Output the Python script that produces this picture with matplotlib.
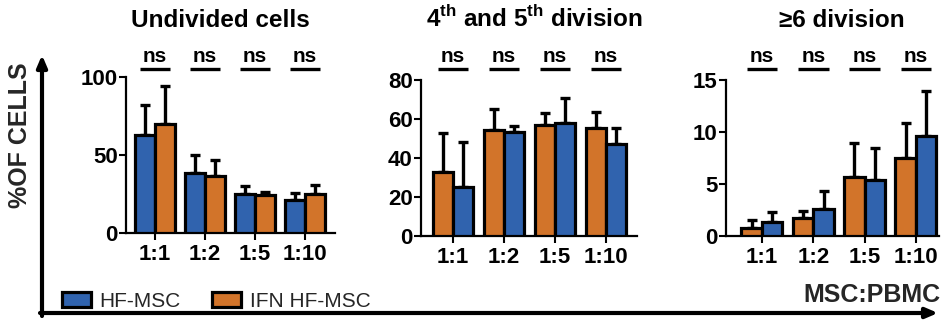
import numpy as np
import matplotlib
matplotlib.use("Agg")
import matplotlib.pyplot as plt
from matplotlib.patches import Patch
from matplotlib.transforms import blended_transform_factory

plt.rcParams['font.family'] = ['Liberation Sans', 'DejaVu Sans']
plt.rcParams['font.weight'] = 'bold'
plt.rcParams['mathtext.fontset'] = 'custom'
plt.rcParams['mathtext.rm'] = 'Liberation Sans:bold'
plt.rcParams['mathtext.bf'] = 'Liberation Sans:bold'

# -----------------------------
# Data
# -----------------------------
ratios = ["1:1", "1:2", "1:5", "1:10"]

# Undivided cells (HF-MSC first, IFN second)
undiv_hf = [63, 38.5, 25, 21]
undiv_hf_sd = [19, 11.5, 5, 4.5]
undiv_ifn = [70, 36.5, 24.5, 25]
undiv_ifn_sd = [24, 10.5, 2, 5.5]

# 4th and 5th division (IFN first, HF-MSC second)
div45_ifn = [33, 54.5, 57, 55.5]
div45_ifn_sd = [20, 10.5, 6, 8]
div45_hf = [25, 53.5, 58, 47]
div45_hf_sd = [23, 3, 13, 8.5]

# >=6 division (IFN first, HF-MSC second)
div6_ifn = [0.8, 1.7, 5.7, 7.5]
div6_ifn_sd = [0.7, 0.7, 3.2, 3.4]
div6_hf = [1.3, 2.6, 5.4, 9.6]
div6_hf_sd = [1.0, 1.7, 3.1, 4.3]

sig_labels = ["ns", "ns", "ns", "ns"]

blue = "#3063AE"
orange = "#D2742A"

# -----------------------------
# Figure
# -----------------------------
W, H = 947, 320
fig = plt.figure(figsize=(W / 100, H / 100), dpi=100)


def px_axes(x0, x1, ybot, ytop):
    return fig.add_axes([x0 / W, (H - ybot) / H, (x1 - x0) / W, (ybot - ytop) / H])


panels = [
    dict(box=(126, 335, 233, 77), xlim=(-0.58, 3.6), ylim=(0, 100), yticks=[0, 50, 100],
         first=(undiv_hf, undiv_hf_sd, blue), second=(undiv_ifn, undiv_ifn_sd, orange),
         title="Undivided cells", tx=220),
    dict(box=(421, 637, 236, 80), xlim=(-0.63, 3.61), ylim=(0, 80), yticks=[0, 20, 40, 60, 80],
         first=(div45_ifn, div45_ifn_sd, orange), second=(div45_hf, div45_hf_sd, blue),
         title=r"4$^{\mathbf{th}}$ and 5$^{\mathbf{th}}$ division", tx=534),
    dict(box=(726, 939, 236, 80), xlim=(-0.7, 3.45), ylim=(0, 15), yticks=[0, 5, 10, 15],
         first=(div6_ifn, div6_ifn_sd, orange), second=(div6_hf, div6_hf_sd, blue),
         title="\u22656 division", tx=842),
]

x = np.arange(len(ratios))
w = 0.4

for p in panels:
    ax = px_axes(*p["box"])
    for vals, sd, col, off in [(*p["first"], -w / 2), (*p["second"], w / 2)]:
        ax.errorbar(x + off, vals, yerr=[np.zeros(len(vals)), sd], fmt="none",
                    ecolor="black", elinewidth=2.4, capsize=3.6, capthick=2.4, zorder=2)
        ax.bar(x + off, vals, width=w, color=col, edgecolor="black", linewidth=2.3, zorder=3)
    ax.set_xlim(*p["xlim"])
    ax.set_ylim(*p["ylim"])
    ax.set_yticks(p["yticks"])
    ax.set_xticks(x)
    ax.set_xticklabels(ratios, fontsize=16, fontweight="bold")
    for lab in ax.get_yticklabels():
        lab.set_fontsize(16)
        lab.set_fontweight("bold")
    ax.tick_params(axis="both", width=1.5, length=5, pad=1, colors="black")
    ax.tick_params(axis="x", pad=3)
    for s in ["top", "right"]:
        ax.spines[s].set_visible(False)
    for s in ["left", "bottom"]:
        ax.spines[s].set_linewidth(1.6)

    # significance marks
    tr = blended_transform_factory(ax.transData, fig.transFigure)
    for xi, lab in zip(x, sig_labels):
        ax.plot([xi - 0.3, xi + 0.3], [(H - 69) / H] * 2, color="black", lw=2.4,
                transform=tr, clip_on=False, solid_capstyle="butt")
        ax.text(xi, (H - 62) / H, lab, transform=tr, ha="center", va="baseline",
                fontsize=15, fontweight="bold")

    fig.text(p["tx"] / W, (H - 27) / H, p["title"], ha="center", va="baseline",
             fontsize=17.5, fontweight="bold")

# big axis arrows
bg = fig.add_axes([0, 0, 1, 1], zorder=-1)
bg.set_xlim(0, W)
bg.set_ylim(H, 0)
bg.axis("off")
bg.annotate("", xy=(42, 55), xytext=(42, 316),
            arrowprops=dict(arrowstyle="-|>,head_length=0.7,head_width=0.3", lw=3, color="black",
                            shrinkA=0, shrinkB=0))
bg.annotate("", xy=(938, 313), xytext=(40, 313),
            arrowprops=dict(arrowstyle="-|>,head_length=0.7,head_width=0.3", lw=3, color="black",
                            shrinkA=0, shrinkB=0))

fig.text(20 / W, (H - 135) / H, "%OF CELLS", rotation=90, ha="center", va="center",
         fontsize=18, fontweight="bold", color="#262626")
fig.text(940 / W, (H - 302) / H, "MSC:PBMC", ha="right", va="baseline",
         fontsize=18, fontweight="bold", color="#262626")

handles = [Patch(facecolor=blue, edgecolor="black", linewidth=2.3, label="HF-MSC"),
           Patch(facecolor=orange, edgecolor="black", linewidth=2.3, label="IFN HF-MSC")]
leg = fig.legend(handles=handles, loc="lower left", bbox_to_anchor=(62 / W, (H - 311) / H),
                 ncol=2, frameon=False, borderpad=0, borderaxespad=0,
                 handlelength=1.4, handleheight=0.75, handletextpad=0.4, columnspacing=1.5,
                 prop={"size": 15, "weight": "normal"})
for t in leg.get_texts():
    t.set_color("#262626")

fig.savefig("out.png", dpi=100)
